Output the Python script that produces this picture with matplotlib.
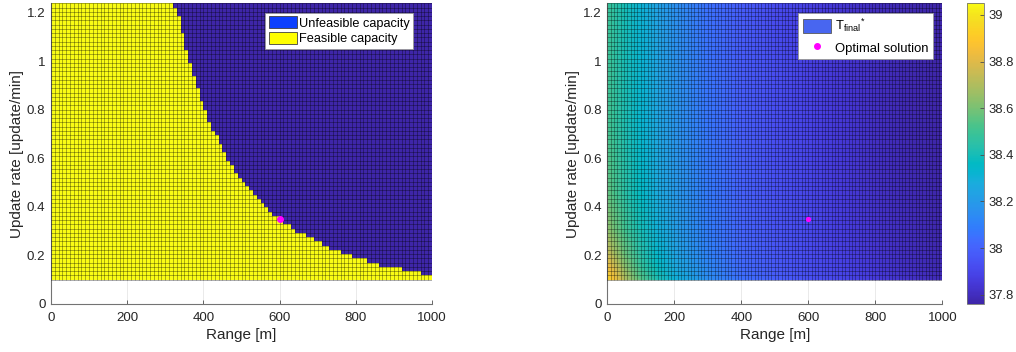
import numpy as np
import matplotlib
matplotlib.use("Agg")
import matplotlib.pyplot as plt
import matplotlib.cm as cm
from matplotlib.colors import LinearSegmentedColormap, ListedColormap
from matplotlib.patches import Patch
from matplotlib.lines import Line2D

plt.rcParams['font.family'] = ['Liberation Sans', 'DejaVu Sans']
plt.rcParams['mathtext.fontset'] = 'custom'
plt.rcParams['mathtext.rm'] = 'Liberation Sans'
plt.rcParams['mathtext.it'] = 'Liberation Sans:italic'

# ---------------- data ----------------
# mesh nodes (range in m, update rate in update/min)
range_nodes = np.arange(0, 1001, 10)
rate_nodes = np.linspace(0.1, 1.2375, 66)

# feasibility boundary (largest feasible range per rate)
boundary_rate = [0.115, 0.133, 0.160, 0.195, 0.229, 0.270, 0.305, 0.346, 0.373, 0.428,
                 0.483, 0.538, 0.606, 0.675, 0.744, 0.812, 0.860, 0.915, 0.963, 1.025,
                 1.086, 1.148, 1.200, 1.237]
boundary_range = [995, 951, 864, 793, 732, 684, 636, 605, 579, 544,
                  518, 487, 461, 439, 417, 400, 391, 380, 369, 359,
                  350, 341, 330, 321]

# T_final* read at a coarse set of points of the right panel
t_range = [0, 20, 50, 100, 150, 200, 300, 400, 500, 600, 700, 800, 900, 1000]
t_rate = [0.1, 0.15, 0.2, 0.3, 0.45, 0.7, 1.0, 1.2375]
t_final = [
    [38.95, 38.86, 38.72, 38.55, 38.42, 38.31, 38.15, 38.05, 37.99, 37.94, 37.90, 37.86, 37.82, 37.79],
    [38.85, 38.78, 38.65, 38.49, 38.37, 38.27, 38.13, 38.03, 37.97, 37.93, 37.89, 37.85, 37.81, 37.78],
    [38.76, 38.70, 38.59, 38.45, 38.34, 38.25, 38.11, 38.02, 37.96, 37.92, 37.88, 37.84, 37.80, 37.78],
    [38.65, 38.60, 38.52, 38.40, 38.30, 38.22, 38.09, 38.01, 37.95, 37.91, 37.87, 37.83, 37.80, 37.77],
    [38.57, 38.53, 38.46, 38.36, 38.27, 38.20, 38.08, 38.00, 37.94, 37.90, 37.86, 37.82, 37.79, 37.77],
    [38.52, 38.49, 38.43, 38.33, 38.25, 38.18, 38.07, 37.99, 37.93, 37.89, 37.85, 37.81, 37.78, 37.76],
    [38.50, 38.47, 38.41, 38.32, 38.24, 38.17, 38.06, 37.98, 37.93, 37.88, 37.84, 37.81, 37.78, 37.76],
    [38.49, 38.46, 38.40, 38.31, 38.23, 38.16, 38.05, 37.98, 37.92, 37.88, 37.84, 37.80, 37.78, 37.76],
]

opt_range = [600]
opt_rate = [0.35]

x_ticks = [0, 200, 400, 600, 800, 1000]
y_ticks = [0, 0.2, 0.4, 0.6, 0.8, 1, 1.2]
cbar_ticks = [37.8, 38.0, 38.2, 38.4, 38.6, 38.8, 39.0]
clim = (37.76, 39.05)

# ---------------- style ----------------
parula_anchors = [
    (0.2422, 0.1504, 0.6603), (0.2578, 0.1818, 0.7511), (0.2706, 0.2147, 0.8364),
    (0.2783, 0.2559, 0.8991), (0.2813, 0.3006, 0.9414), (0.2795, 0.3447, 0.9717),
    (0.2699, 0.3892, 0.9906), (0.2440, 0.4358, 0.9988), (0.1963, 0.4847, 0.9892),
    (0.1786, 0.5289, 0.9682), (0.1687, 0.5703, 0.9359), (0.1460, 0.6091, 0.9079),
    (0.1248, 0.6459, 0.8883), (0.0952, 0.6798, 0.8598), (0.0297, 0.7082, 0.8163),
    (0.0067, 0.7291, 0.7660), (0.0964, 0.7423, 0.7115), (0.1717, 0.7519, 0.6575),
    (0.2161, 0.7618, 0.6020), (0.2906, 0.7660, 0.5440), (0.3909, 0.7630, 0.4941),
    (0.4888, 0.7567, 0.4471), (0.5772, 0.7495, 0.4092), (0.6599, 0.7422, 0.3774),
    (0.7387, 0.7354, 0.3471), (0.8156, 0.7305, 0.3149), (0.8896, 0.7296, 0.2767),
    (0.9563, 0.7413, 0.2297), (0.9953, 0.7707, 0.1773), (0.9898, 0.8136, 0.1455),
    (0.9670, 0.8568, 0.1342), (0.9619, 0.9059, 0.1083), (0.9769, 0.9839, 0.0805)]
parula = LinearSegmentedColormap.from_list('parula', parula_anchors, N=256)

W, H = 1016, 352
fig = plt.figure(figsize=(W / 100, H / 100), dpi=100)
ax_bottom = (H - 304) / H
ax_height = (304 - 3.3) / H
ax1 = fig.add_axes([51 / W, ax_bottom, 381 / W, ax_height])
ax2 = fig.add_axes([607.3 / W, ax_bottom, 335 / W, ax_height])
cax = fig.add_axes([967 / W, ax_bottom, 17.3 / W, ax_height])

xc = (range_nodes[:-1] + range_nodes[1:]) / 2
yc = (rate_nodes[:-1] + rate_nodes[1:]) / 2
limit = np.interp(yc, boundary_rate, boundary_range)
feasible = (xc[None, :] <= limit[:, None]).astype(float)

two = ListedColormap([parula_anchors[0], parula_anchors[-1]])
ax1.pcolormesh(range_nodes, rate_nodes, feasible, cmap=two, vmin=0, vmax=1, zorder=2)

ax2.pcolormesh(t_range, t_rate, np.array(t_final), cmap=parula, shading='gouraud',
               vmin=clim[0], vmax=clim[1], zorder=2)
sm = cm.ScalarMappable(cmap=parula, norm=plt.Normalize(*clim))

for ax in (ax1, ax2):
    ax.vlines(range_nodes, rate_nodes[0], rate_nodes[-1], colors='k', lw=0.45, alpha=0.5, zorder=3)
    ax.hlines(rate_nodes, range_nodes[0], range_nodes[-1], colors='k', lw=0.45, alpha=0.5, zorder=3)
    ax.set_xlim(0, 1000)
    ax.set_ylim(0, 1.2375)
    ax.set_xticks(x_ticks)
    ax.set_yticks(y_ticks)
    ax.set_yticklabels(['0', '0.2', '0.4', '0.6', '0.8', '1', '1.2'])
    ax.grid(True, color='0.9', lw=0.6, zorder=0)
    ax.set_axisbelow(True)
    for s in ('top', 'right'):
        ax.spines[s].set_visible(False)
    for s in ('left', 'bottom'):
        ax.spines[s].set_color('0.45')
        ax.spines[s].set_linewidth(0.8)
    ax.tick_params(direction='in', length=3, width=0.6, color='0.3', labelsize=9.6,
                   labelcolor='0.15')
    ax.tick_params(axis='x', pad=6)
    ax.tick_params(axis='y', pad=4)
    ax.set_xlabel('Range [m]', fontsize=11, color='0.15', labelpad=3)
    ax.set_ylabel('Update rate [update/min]', fontsize=11, color='0.15', labelpad=2)

ax1.plot(opt_range, opt_rate, 'o', color='#ff00ff', ms=4, zorder=5)
ax2.plot(opt_range, opt_rate, 'o', color='#ff00ff', ms=2.8, zorder=5)

leg1 = ax1.legend(handles=[Patch(fc=(0.05, 0.25, 1.0), ec='0.25', lw=0.6, label='Unfeasible capacity'),
                           Patch(fc=(1.0, 1.0, 0.0), ec='0.25', lw=0.6, label='Feasible capacity')],
                  loc='upper right', bbox_to_anchor=(0.951, 0.969), fontsize=9.2,
                  fancybox=False, framealpha=1, edgecolor='0.6', borderpad=0.3,
                  labelspacing=0.2, handlelength=2.2, handleheight=1.0, handletextpad=0.15,
                  borderaxespad=0)
leg1.set_zorder(10)
leg1.get_frame().set_linewidth(0.6)

leg2 = ax2.legend(handles=[Patch(fc='#4866f0', ec='0.35', lw=0.6, label=r'T$_{\mathrm{final}}$$^{*}$'),
                           Line2D([], [], ls='none', marker='o', color='#ff00ff', ms=4,
                                  label='Optimal solution')],
                  loc='upper right', bbox_to_anchor=(0.973, 0.969), fontsize=9.4,
                  fancybox=False, framealpha=1, edgecolor='0.6', borderpad=0.35,
                  labelspacing=0.45, handlelength=2.2, handleheight=1.3, handletextpad=0.3,
                  borderaxespad=0)
leg2.set_zorder(10)
leg2.get_frame().set_linewidth(0.6)

cb = fig.colorbar(sm, cax=cax)
cb.set_ticks(cbar_ticks)
cb.set_ticklabels(['37.8', '38', '38.2', '38.4', '38.6', '38.8', '39'])
cb.outline.set_linewidth(0.6)
cb.outline.set_edgecolor('0.45')
cax.tick_params(direction='in', length=3, width=0.6, color='0.3', labelsize=9.4,
                labelcolor='0.15', pad=3)

fig.savefig('out.png', dpi=100)
